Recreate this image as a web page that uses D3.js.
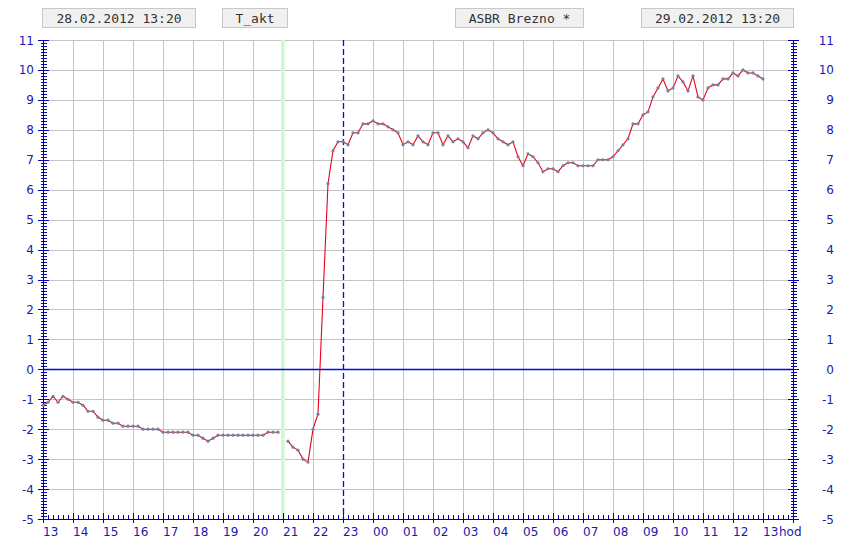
<!DOCTYPE html>
<html><head><meta charset="utf-8">
<script src="https://cdn.jsdelivr.net/npm/d3@7"></script>
<style>html,body{margin:0;padding:0;background:#fff;}svg{display:block;}</style>
</head><body>
<script>
// ---- data ----
const headerLabels = ["28.02.2012 13:20", "T_akt", "ASBR Brezno *", "29.02.2012 13:20"];
const startHour = 13;          // first sample at 13:00, one sample each 10 minutes
const stepMinutes = 10;
// temperature [°C], null = missing sample (21:00)
const values = [
  -1.2,-1.1,-0.9,-1.1,-0.9,-1.0,   // 13
  -1.1,-1.1,-1.2,-1.4,-1.4,-1.6,   // 14
  -1.7,-1.7,-1.8,-1.8,-1.9,-1.9,   // 15
  -1.9,-1.9,-2.0,-2.0,-2.0,-2.0,   // 16
  -2.1,-2.1,-2.1,-2.1,-2.1,-2.1,   // 17
  -2.2,-2.2,-2.3,-2.4,-2.3,-2.2,   // 18
  -2.2,-2.2,-2.2,-2.2,-2.2,-2.2,   // 19
  -2.2,-2.2,-2.2,-2.1,-2.1,-2.1,   // 20
  null,-2.4,-2.6,-2.7,-3.0,-3.1,   // 21
  -2.0,-1.5,2.4,6.2,7.3,7.6,       // 22
  7.6,7.5,7.9,7.9,8.2,8.2,         // 23
  8.3,8.2,8.2,8.1,8.0,7.9,         // 00
  7.5,7.6,7.5,7.8,7.6,7.5,         // 01
  7.9,7.9,7.5,7.8,7.6,7.7,         // 02
  7.6,7.4,7.8,7.7,7.9,8.0,         // 03
  7.9,7.7,7.6,7.5,7.6,7.1,         // 04
  6.8,7.2,7.1,6.9,6.6,6.7,         // 05
  6.7,6.6,6.8,6.9,6.9,6.8,         // 06
  6.8,6.8,6.8,7.0,7.0,7.0,         // 07
  7.1,7.3,7.5,7.7,8.2,8.2,         // 08
  8.5,8.6,9.1,9.4,9.7,9.3,         // 09
  9.4,9.8,9.6,9.3,9.8,9.1,         // 10
  9.0,9.4,9.5,9.5,9.7,9.7,         // 11
  9.9,9.8,10.0,9.9,9.9,9.8,        // 12
  9.7                              // 13
];
const hourLabels = ["13","14","15","16","17","18","19","20","21","22","23","00","01","02","03","04","05","06","07","08","09","10","11","12","13"];
const yTicks = [11,10,9,8,7,6,5,4,3,2,1,0,-1,-2,-3,-4,-5];
const gapHour = 21;        // green marker (missing value)
const dashedHour = 23;     // dashed marker

// ---- drawing ----
const W = 849, H = 549;
const svg = d3.select("body").append("svg").attr("width", W).attr("height", H);
const navy = "#0000b4", textBlue = "#1a1aaa";

const x = d3.scaleLinear().domain([13, 38]).range([43, 793]);
const y = d3.scaleLinear().domain([-5, 11]).range([519, 40]);

// header boxes
const boxes = [{x0:42,x1:195},{x0:222,x1:287},{x0:455,x1:583},{x0:641,x1:793}];
const hg = svg.append("g");
headerLabels.forEach((t,i)=>{
  const b = boxes[i];
  hg.append("rect").attr("x",b.x0+0.5).attr("y",8.5).attr("width",b.x1-b.x0).attr("height",19)
    .attr("fill","#f0f0f0").attr("stroke","#c8c8c8");
  hg.append("text").attr("x",(b.x0+b.x1)/2+0.5).attr("y",22.5).attr("text-anchor","middle")
    .attr("font-family","DejaVu Sans Mono").attr("font-size",13).attr("fill","#333").text(t);
});

// grid
const grid = svg.append("g").attr("stroke","#c4c4c4").attr("stroke-width",1).attr("shape-rendering","crispEdges");
d3.range(14, 38).forEach(h=>{
  if (h === dashedHour) return;
  grid.append("line").attr("x1",Math.round(x(h))+0.5).attr("x2",Math.round(x(h))+0.5).attr("y1",y(11)).attr("y2",y(-5));
});
yTicks.forEach(v=>{
  if (v === -5 || v === 0) return;
  grid.append("line").attr("x1",x(13)).attr("x2",x(38)).attr("y1",Math.round(y(v))+0.5).attr("y2",Math.round(y(v))+0.5);
});

// green gap marker
svg.append("rect").attr("x",x(gapHour)-2).attr("y",y(11)).attr("width",4).attr("height",y(-5)-y(11))
  .attr("fill","#e2f5e2").attr("shape-rendering","crispEdges");
svg.append("line").attr("x1",x(gapHour)-0.5).attr("x2",x(gapHour)-0.5).attr("y1",y(11)).attr("y2",y(-5))
  .attr("stroke","#bde6bd").attr("stroke-width",1).attr("stroke-dasharray","1,1").attr("shape-rendering","crispEdges");

// zero line
svg.append("line").attr("x1",x(13)).attr("x2",x(38)).attr("y1",Math.round(y(0))+0.5).attr("y2",Math.round(y(0))+0.5)
  .attr("stroke","#0808e8").attr("stroke-width",1.4);

// dashed marker
svg.append("line").attr("x1",Math.round(x(dashedHour))+0.5).attr("x2",Math.round(x(dashedHour))+0.5)
  .attr("y1",y(11)).attr("y2",y(-5)).attr("stroke","#0808e0").attr("stroke-width",1.3).attr("stroke-dasharray","6,3");

// axes
const ax = svg.append("g").attr("stroke",navy).attr("shape-rendering","crispEdges");
function yAxis(x0){
  ax.append("line").attr("x1",x0+0.5).attr("x2",x0+0.5).attr("y1",y(11)).attr("y2",y(-5));
  d3.range(-50, 111).forEach(k=>{
    const v = k/10, yy = Math.round(y(v))+0.5;
    if (k % 10 === 0) ax.append("line").attr("x1",x0-5).attr("x2",x0+6).attr("y1",yy).attr("y2",yy);
    else ax.append("line").attr("x1",x0-2).attr("x2",x0+4).attr("y1",yy).attr("y2",yy);
  });
}
yAxis(43); yAxis(793);
ax.append("line").attr("x1",x(13)).attr("x2",x(38)).attr("y1",519.5).attr("y2",519.5);
d3.range(0, 25*6+1).forEach(k=>{
  const h = 13 + k/6, xx = Math.round(x(h))+0.5;
  if (k % 6 === 0) ax.append("line").attr("x1",xx).attr("x2",xx).attr("y1",513).attr("y2",523);
  else ax.append("line").attr("x1",xx).attr("x2",xx).attr("y1",515).attr("y2",519);
});

// axis labels
const tl = svg.append("g").attr("font-family","DejaVu Sans").attr("font-size",12).attr("fill",textBlue);
yTicks.forEach(v=>{
  tl.append("text").attr("x",34).attr("y",y(v)+4.5).attr("text-anchor","end").text(v);
  tl.append("text").attr("x",834).attr("y",y(v)+4.5).attr("text-anchor","end").text(v);
});
hourLabels.forEach((t,i)=>{
  tl.append("text").attr("x",x(13+i)).attr("y",536).text(t);
});
tl.append("text").attr("x",x(37)+16).attr("y",536).text("hod");

// series
const pts = values.map((v,i)=>({h: startHour + i*stepMinutes/60, v}));
const line = d3.line().defined(d=>d.v!==null).x(d=>x(d.h)).y(d=>y(d.v));
svg.append("path").datum(pts).attr("d",line).attr("fill","none").attr("stroke","#e8001a").attr("stroke-width",1.1);
svg.append("g").selectAll("circle").data(pts.filter(d=>d.v!==null)).join("circle")
  .attr("cx",d=>x(d.h)).attr("cy",d=>y(d.v)).attr("r",1.6).attr("fill","#7282a2");
</script>
</body></html>
